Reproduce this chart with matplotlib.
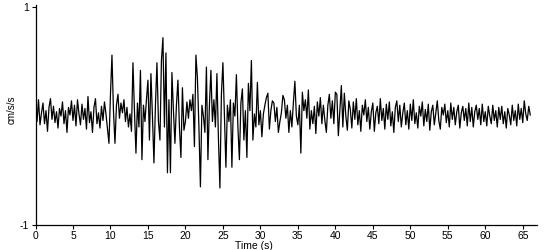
import numpy as np
import matplotlib
matplotlib.use("Agg")
import matplotlib.pyplot as plt

dt = 0.2  # sample interval (s)

accel = [
    # 0-10 s
    0.07, -0.05, 0.15, -0.08, 0.03,
    0.12, -0.07, 0.05, -0.14, 0.08,
    0.16, -0.03, 0.09, -0.06, 0.04,
    -0.11, 0.07, 0.00, 0.13, -0.07,
    0.05, -0.15, 0.08, 0.01, 0.14,
    -0.04, 0.10, -0.09, 0.15, 0.02,
    -0.08, 0.11, -0.03, 0.07, -0.12,
    0.18, -0.06, 0.04, -0.15, 0.08,
    0.16, -0.07, 0.03, -0.11, 0.09,
    -0.04, 0.13, 0.02, -0.12, -0.25,
    # 10-20 s
    0.20, 0.56, 0.05, -0.25, 0.10,
    0.20, -0.02, 0.12, 0.03, 0.15,
    -0.05, 0.08, -0.10, 0.02, -0.14,
    0.49, 0.05, -0.34, 0.12, -0.10,
    0.42, -0.40, 0.10, -0.05, 0.15,
    0.33, -0.22, 0.39, 0.00, -0.43,
    0.10, 0.49, -0.05, -0.22, 0.51,
    0.72, -0.10, 0.58, -0.52, 0.15,
    -0.52, 0.40, 0.05, -0.25, 0.10,
    0.33, -0.10, -0.38, 0.26, -0.13,
    # 20-30 s
    -0.05, 0.13, -0.02, 0.15, 0.05,
    0.20, -0.28, 0.56, 0.35, -0.10,
    -0.65, 0.10, 0.00, -0.15, 0.45,
    -0.40, 0.10, 0.42, -0.05, 0.15,
    -0.10, 0.39, -0.20, -0.66, 0.20,
    0.49, 0.00, -0.47, 0.10, -0.05,
    0.15, -0.47, 0.12, 0.00, 0.38,
    -0.10, -0.40, 0.12, 0.25, -0.22,
    0.05, -0.38, 0.30, 0.05, 0.51,
    -0.22, 0.02, -0.10, 0.31, -0.08,
    # 30-42 s
    0.05, -0.19, 0.02, 0.10, 0.17,
    0.21, -0.12, 0.05, 0.14, 0.12,
    -0.05, 0.08, -0.15, -0.05, 0.03,
    0.19, 0.15, -0.02, 0.10, -0.15,
    0.05, -0.10, 0.12, 0.32, 0.00,
    -0.08, 0.10, -0.34, 0.22, 0.05,
    0.15, -0.02, 0.24, -0.12, 0.05,
    -0.07, 0.09, -0.16, 0.13, 0.00,
    0.17, -0.07, 0.10, -0.04, -0.15,
    0.10, 0.20, -0.02, 0.14, -0.07,
    0.22, 0.20, -0.18, 0.05, 0.28,
    -0.10, 0.21, 0.00, -0.13, 0.14,
    # 42-66 s
    0.06, -0.11, 0.13, -0.03, 0.16,
    -0.08, 0.05, -0.14, 0.10, 0.01,
    0.15, -0.05, 0.08, -0.12, 0.04,
    0.12, -0.14, 0.03, 0.09, -0.07,
    0.16, -0.04, 0.07, -0.12, 0.11,
    -0.03, 0.13, -0.09, 0.04, -0.15,
    0.08, 0.14, -0.05, 0.10, -0.10,
    0.03, 0.12, -0.08, 0.05, -0.12,
    0.11, -0.04, 0.15, -0.07, 0.03,
    -0.11, 0.09, 0.00, 0.13, -0.09,
    0.06, -0.05, 0.11, -0.13, 0.04,
    0.10, -0.08, 0.03, 0.14, -0.04,
    -0.12, 0.08, 0.01, 0.11, -0.06,
    0.05, -0.10, 0.12, -0.03, 0.08,
    -0.08, 0.04, 0.10, -0.11, 0.03,
    0.09, -0.04, 0.07, -0.09, 0.12,
    -0.05, 0.08, -0.10, 0.04, 0.10,
    -0.03, 0.07, -0.08, 0.11, -0.05,
    0.04, -0.09, 0.09, 0.00, -0.07,
    0.10, -0.04, 0.05, -0.10, 0.08,
    -0.03, 0.09, -0.07, 0.04, -0.11,
    0.07, 0.01, -0.08, 0.10, -0.04,
    0.05, -0.09, 0.11, -0.03, 0.07,
    -0.06, 0.14, 0.02, -0.04, 0.09,
    0.01,
]

x_ticks = [0, 5, 10, 15, 20, 25, 30, 35, 40, 45, 50, 55, 60, 65]
y_ticks = [-1, 1]
x_label = "Time (s)"
y_label = "cm/s/s"

t = np.arange(len(accel)) * dt

plt.rcParams['font.family'] = ['Liberation Sans', 'DejaVu Sans']

fig = plt.figure(figsize=(5.5, 2.5), dpi=100)
ax = fig.add_axes([35.5 / 550, 25 / 250, 501.5 / 550, 220 / 250])
ax.plot(t, accel, color='black', linewidth=0.9)

ax.set_xlim(0, 66.9)
ax.set_ylim(-1, 1.02)
ax.set_xticks(x_ticks)
ax.set_yticks(y_ticks)
ax.set_yticklabels(['-1', '1'])
ax.tick_params(axis='both', labelsize=7.5, length=3.2, width=0.8, pad=1.2, color='black')

for s in ['top', 'right']:
    ax.spines[s].set_visible(False)
for s in ['left', 'bottom']:
    ax.spines[s].set_linewidth(0.9)

ax.set_xlabel(x_label, fontsize=7.5, va='center')
ax.xaxis.set_label_coords(0.436, -0.097)
ax.set_ylabel(y_label, fontsize=7, va='center')
ax.yaxis.set_label_coords(-0.047, 0.523)

fig.savefig('out.png', dpi=100)
